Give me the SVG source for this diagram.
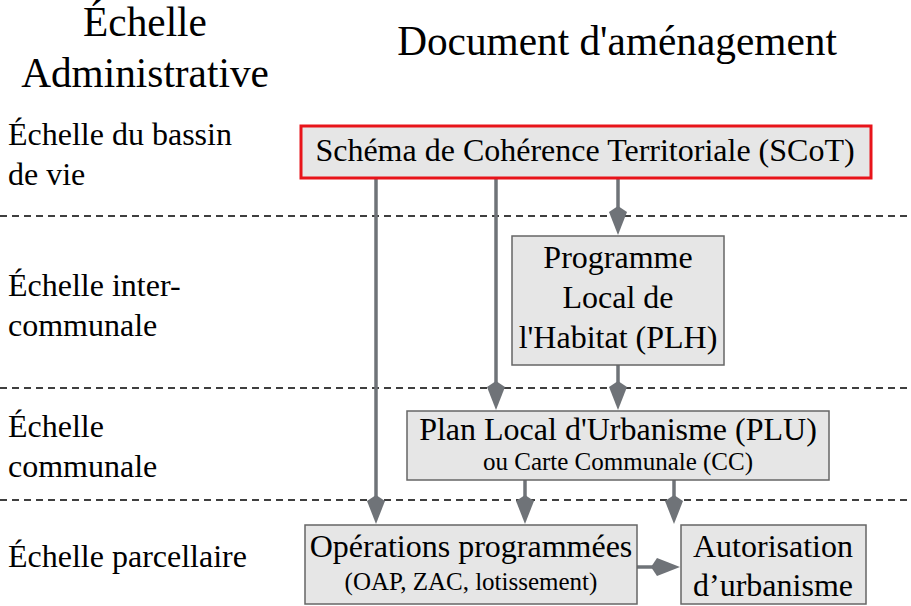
<svg xmlns="http://www.w3.org/2000/svg" width="911" height="606" viewBox="0 0 911 606">
<style>
text{font-family:"Liberation Serif","Times New Roman",serif;fill:#000}
.h{font-size:41.3px;text-anchor:middle}
.l{font-size:32px}
.t{font-size:32px;text-anchor:middle}
.s{font-size:25px;text-anchor:middle}
.box{fill:#e6e6e6;stroke:#666;stroke-width:1.5}
.dash{stroke:#000;stroke-width:1.5;stroke-dasharray:7,5;fill:none}
.c{stroke:#6f7378;stroke-width:3.5;fill:none;marker-end:url(#ah)}
</style>
<defs>
<marker id="ah" markerUnits="userSpaceOnUse" refX="0" refY="0" markerWidth="40" markerHeight="40" orient="auto" overflow="visible">
<path d="M23,0 L0,-9 L-6,0 L0,9 Z" fill="#6f7378"/>
</marker>
</defs>
<rect width="911" height="606" fill="#fff"/>
<g id="headings">
<text class="h" x="145" y="36">Échelle</text>
<text class="h" x="145" y="87">Administrative</text>
<text class="h" x="617" y="55">Document d'aménagement</text>
</g>
<g id="scales">
<text class="l" x="8" y="145">Échelle du bassin</text>
<text class="l" x="8" y="185">de vie</text>
<text class="l" x="8" y="296">Échelle inter-</text>
<text class="l" x="8" y="336">communale</text>
<text class="l" x="8" y="437">Échelle</text>
<text class="l" x="8" y="477">communale</text>
<text class="l" x="8" y="567">Échelle parcellaire</text>
</g>
<g id="separators">
<line class="dash" x1="0" y1="216" x2="911" y2="216"/>
<line class="dash" x1="0" y1="388" x2="911" y2="388"/>
<line class="dash" x1="0" y1="500" x2="911" y2="500"/>
</g>
<g id="connectors">
<line class="c" x1="376" y1="178" x2="376" y2="501"/>
<line class="c" x1="496" y1="178" x2="496" y2="387"/>
<line class="c" x1="618" y1="178" x2="618" y2="212"/>
<line class="c" x1="618" y1="365" x2="618" y2="387"/>
<line class="c" x1="525" y1="480" x2="525" y2="501"/>
<line class="c" x1="674" y1="480" x2="674" y2="501"/>
<line class="c" x1="637" y1="567" x2="657" y2="567"/>
</g>
<g id="scot">
<rect x="301" y="126" width="570" height="52" fill="#e6e6e6" stroke="#e8141a" stroke-width="3"/>
<text class="t" x="585" y="161">Schéma de Cohérence Territoriale (SCoT)</text>
</g>
<g id="plh">
<rect class="box" x="512" y="236" width="212" height="129"/>
<text class="t" x="618" y="268">Programme</text>
<text class="t" x="618" y="308">Local de</text>
<text class="t" x="618" y="348">l'Habitat (PLH)</text>
</g>
<g id="plu">
<rect class="box" x="407" y="411" width="422" height="69"/>
<text class="t" x="618" y="440">Plan Local d'Urbanisme (PLU)</text>
<text class="s" x="618" y="470">ou Carte Communale (CC)</text>
</g>
<g id="operations">
<rect class="box" x="305" y="525" width="332" height="79"/>
<text class="t" x="471" y="557">Opérations programmées</text>
<text class="s" x="471" y="590">(OAP, ZAC, lotissement)</text>
</g>
<g id="autorisation">
<rect class="box" x="681" y="525" width="185" height="79"/>
<text class="t" x="773" y="557">Autorisation</text>
<text class="t" x="773" y="596">d’urbanisme</text>
</g>
</svg>
